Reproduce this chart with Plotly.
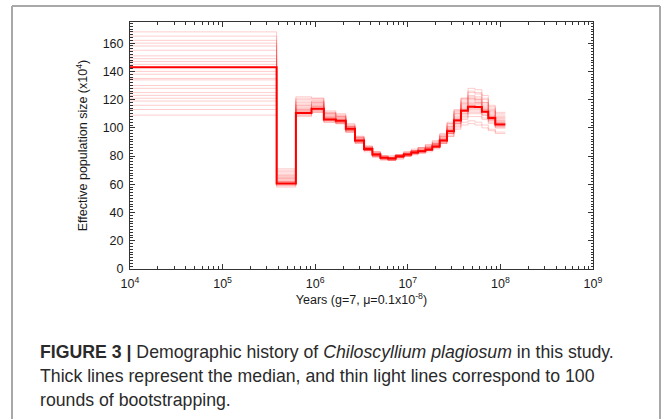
import plotly.graph_objects as go

# Segment boundaries (years) of the PSMC-style step history
times = [1e4, 3.83e5, 6.18e5, 9.12e5, 1.24e6, 1.67e6, 2.14e6, 2.69e6, 3.37e6, 4.15e6,
         5.06e6, 6.11e6, 7.40e6, 9.03e6, 1.09e7, 1.29e7, 1.55e7, 1.84e7, 2.21e7,
         2.65e7, 3.15e7, 3.75e7, 4.46e7, 5.31e7, 6.31e7, 7.40e7, 8.81e7, 1.13e8]

# Median effective population size (x10^4) per segment
median = [143, 60.5, 110.6, 113.6, 106, 105, 99.3, 91, 85, 81.2, 78.8, 78.3, 79.8, 81.2,
          82.6, 83.5, 84.7, 86.8, 91, 97.6, 105.2, 112.2, 115, 114.8, 111.5, 107, 102.4]

# Bootstrap replicates
boot_01 = [168, 71, 122, 121, 112, 110, 103, 94, 87, 83, 80, 79, 80, 82, 84, 86, 88, 91, 96, 104, 113, 121, 126, 125, 121, 115, 110]
boot_02 = [109, 58, 108, 111, 104, 103, 97, 89, 83, 79, 77, 77, 78, 80, 81, 82, 83, 85, 89, 94, 100, 104, 105, 104, 102, 99, 97]
boot_03 = [155, 65, 116, 117, 109, 107, 101, 93, 86, 82, 80, 79, 81, 82, 84, 85, 86, 89, 94, 101, 110, 118, 122, 121, 118, 112, 107]
boot_04 = [130, 62, 112, 114, 107, 105, 99, 91, 85, 81, 79, 78, 80, 81, 83, 84, 85, 88, 92, 99, 107, 114, 117, 117, 113, 108, 104]
boot_05 = [147, 66, 117, 119, 110, 108, 101, 92, 86, 82, 79, 79, 80, 82, 83, 84, 86, 88, 93, 100, 108, 116, 120, 119, 115, 110, 105]
boot_06 = [121, 59, 109, 112, 105, 104, 98, 90, 84, 80, 78, 77, 79, 80, 82, 83, 84, 86, 90, 96, 103, 109, 112, 112, 109, 105, 101]
boot_07 = [162, 69, 120, 120, 111, 109, 102, 93, 87, 83, 80, 80, 81, 83, 84, 86, 87, 90, 95, 103, 112, 120, 125, 124, 120, 114, 109]
boot_08 = [138, 61, 111, 113, 106, 104, 98, 90, 84, 80, 78, 78, 79, 81, 82, 83, 84, 87, 91, 97, 104, 111, 114, 114, 111, 106, 102]
boot_09 = [116, 60, 110, 112, 105, 103, 97, 89, 84, 80, 78, 77, 79, 80, 82, 83, 84, 86, 89, 95, 101, 106, 108, 108, 106, 103, 100]
boot_10 = [151, 64, 114, 116, 108, 106, 100, 92, 86, 82, 79, 79, 80, 82, 83, 84, 86, 88, 92, 99, 107, 115, 119, 118, 114, 109, 104]
boot_11 = [125, 63, 113, 115, 107, 106, 100, 91, 85, 81, 79, 78, 80, 81, 83, 84, 85, 87, 91, 98, 106, 113, 116, 116, 112, 108, 103]
boot_12 = [158, 67, 118, 118, 110, 108, 101, 93, 86, 82, 80, 79, 80, 82, 84, 85, 87, 89, 94, 102, 111, 119, 123, 122, 118, 113, 108]
boot_13 = [134, 62, 112, 114, 106, 105, 99, 91, 85, 81, 79, 78, 79, 81, 82, 84, 85, 87, 91, 97, 104, 110, 113, 113, 110, 106, 102]
boot_14 = [143, 65, 115, 117, 108, 107, 100, 92, 85, 81, 79, 78, 80, 81, 83, 84, 85, 88, 92, 98, 106, 114, 118, 118, 114, 109, 105]
boot_15 = [119, 59, 109, 111, 104, 103, 97, 90, 84, 80, 78, 77, 78, 80, 81, 82, 84, 86, 89, 94, 99, 102, 103, 102, 100, 98, 96]
boot_16 = [165, 70, 121, 121, 111, 109, 102, 94, 87, 83, 80, 80, 81, 83, 85, 86, 88, 90, 95, 103, 112, 121, 128, 127, 123, 116, 111]
boot_17 = [128, 61, 111, 113, 106, 104, 98, 90, 84, 80, 78, 78, 79, 81, 82, 83, 84, 87, 90, 96, 103, 108, 111, 111, 109, 105, 101]
boot_18 = [149, 66, 116, 118, 109, 107, 100, 92, 86, 82, 79, 79, 80, 82, 83, 85, 86, 89, 93, 100, 109, 117, 121, 120, 116, 111, 106]
boot_19 = [113, 60, 110, 112, 105, 104, 98, 90, 84, 80, 78, 77, 79, 80, 82, 83, 84, 86, 90, 96, 102, 107, 110, 110, 107, 104, 100]
boot_20 = [140, 63, 113, 115, 107, 105, 99, 91, 85, 81, 79, 78, 80, 81, 83, 84, 85, 87, 91, 98, 105, 112, 115, 115, 112, 107, 103]
boot_21 = [160, 68, 119, 119, 110, 108, 101, 93, 86, 82, 80, 79, 81, 82, 84, 85, 87, 89, 94, 101, 110, 117, 121, 120, 117, 112, 107]
boot_22 = [123, 61, 111, 113, 106, 104, 98, 90, 84, 80, 78, 78, 79, 81, 82, 83, 84, 86, 90, 96, 103, 110, 114, 114, 111, 106, 102]
boot_23 = [135, 64, 114, 116, 107, 106, 99, 91, 85, 81, 79, 78, 80, 81, 83, 84, 85, 88, 92, 99, 106, 113, 117, 117, 113, 108, 104]
boot_24 = [145, 62, 112, 115, 107, 105, 99, 91, 85, 81, 79, 78, 80, 81, 83, 84, 86, 88, 92, 98, 106, 113, 116, 115, 112, 107, 103]

bootstraps = [boot_01, boot_02, boot_03, boot_04, boot_05, boot_06, boot_07, boot_08,
              boot_09, boot_10, boot_11, boot_12, boot_13, boot_14, boot_15, boot_16,
              boot_17, boot_18, boot_19, boot_20, boot_21, boot_22, boot_23, boot_24]

x_tick_vals = [1e4, 1e5, 1e6, 1e7, 1e8, 1e9]
x_tick_text = ["10<sup>4</sup>", "10<sup>5</sup>", "10<sup>6</sup>", "10<sup>7</sup>",
               "10<sup>8</sup>", "10<sup>9</sup>"]
y_tick_vals = [0, 20, 40, 60, 80, 100, 120, 140, 160]

caption_lines = [
    "<b>FIGURE 3 |</b> Demographic history of <i>Chiloscyllium plagiosum</i> in this study.",
    "Thick lines represent the median, and thin light lines correspond to 100",
    "rounds of bootstrapping.",
]

# ---- layout geometry (pixels) ----
W, H = 663, 419
L, R, T, B = 130, 70, 22, 150
PW, PH = W - L - R, H - T - B


def px(xp):
    return (xp - L) / PW


def py(yp):
    return (H - B - yp) / PH


fig = go.Figure()

for b in bootstraps:
    fig.add_trace(go.Scatter(
        x=times, y=b + [b[-1]], mode="lines", line_shape="hv",
        line=dict(color="rgba(255,60,60,0.26)", width=1),
        hoverinfo="skip", showlegend=False))

fig.add_trace(go.Scatter(
    x=times, y=median + [median[-1]], mode="lines", line_shape="hv",
    line=dict(color="#ff0000", width=2), showlegend=False))

tick_font = dict(family="Liberation Sans, Arial, sans-serif", size=12.5, color="#1a1a1a")
title_font = dict(family="Liberation Sans, Arial, sans-serif", size=12.5, color="#1a1a1a")

fig.update_xaxes(
    type="log", range=[4, 9], tickvals=x_tick_vals, ticktext=x_tick_text,
    ticks="inside", ticklen=5, tickcolor="#333", showline=True, linecolor="#333",
    linewidth=1, mirror="ticks", showgrid=False, zeroline=False,
    tickfont=tick_font, ticklabelstandoff=3,
    minor=dict(ticks="inside", ticklen=3, tickcolor="#333", dtick="D1", showgrid=False),
    title=dict(text="Years (g=7, μ=0.1x10<sup>-8</sup>)", font=title_font, standoff=2),
)
fig.update_yaxes(
    range=[0, 175], tickvals=y_tick_vals, ticks="inside", ticklen=5, tickcolor="#333",
    showline=True, linecolor="#333", linewidth=1, mirror="ticks", showgrid=False,
    zeroline=False, tickfont=tick_font, ticklabelstandoff=3,
    minor=dict(ticks="inside", ticklen=2.5, tickcolor="#333", dtick=2, showgrid=False),
    title=dict(text="Effective population size (x10<sup>4</sup>)", font=title_font, standoff=12),
)

# outer figure frame
frame = dict(type="line", xref="paper", yref="paper", layer="above",
             line=dict(color="#a8a8a8", width=2))
fig.add_shape(x0=px(12), y0=py(H + 4), x1=px(12), y1=py(6), **frame)
fig.add_shape(x0=px(12), y0=py(6), x1=px(660), y1=py(6), **frame)
fig.add_shape(x0=px(660), y0=py(6), x1=px(660), y1=py(H + 4), **frame)

cap_font = dict(family="Liberation Sans, Arial, sans-serif", size=17.7, color="#2a2a2a")
for i, line in enumerate(caption_lines):
    fig.add_annotation(text=line, xref="paper", yref="paper", x=px(38), y=py(352 + i * 24),
                       xanchor="left", yanchor="middle", showarrow=False, font=cap_font)

fig.update_layout(
    width=W, height=H, margin=dict(l=L, r=R, t=T, b=B),
    paper_bgcolor="white", plot_bgcolor="white",
)

fig.write_html("out.html", config={"displayModeBar": False},
               post_script="document.body.style.margin='0';document.body.style.overflow='hidden';")
